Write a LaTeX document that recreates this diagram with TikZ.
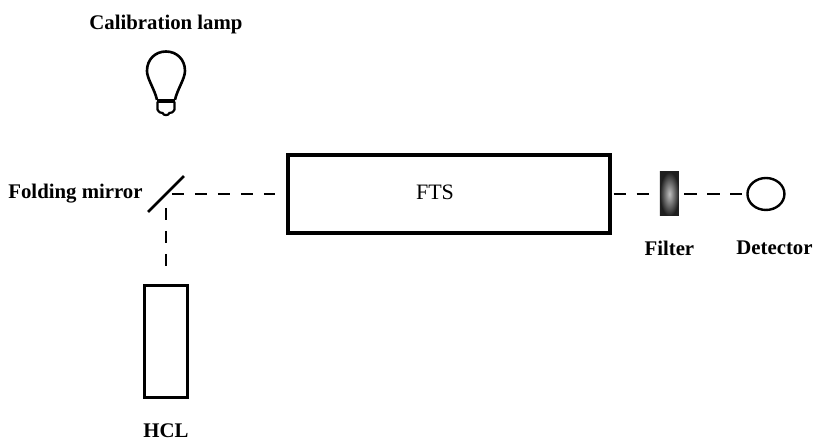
\documentclass[tikz,border=0pt]{standalone}
\usepackage{fontspec}
\setmainfont{Liberation Serif}
\usetikzlibrary{arrows.meta,positioning,shapes.geometric}

\begin{document}
\begin{tikzpicture}[
  tag/.style={inner sep=0pt, font=\fontsize{10.4}{12}\selectfont\bfseries},
  fts/.style={draw, line width=2.2pt, minimum width=5.66cm, minimum height=1.37cm},
  lampbox/.style={draw, line width=1.4pt, minimum width=0.756cm, minimum height=1.97cm},
  filterbox/.style={rectangle, minimum width=0.334cm, minimum height=0.773cm, inner sep=0pt,
  shading=radial, inner color=black!25, outer color=black!88},
  detector/.style={draw, ellipse, line width=1.2pt, minimum width=0.65cm, minimum height=0.562cm, inner sep=0pt},
  beam/.style={line width=0.85pt, dash pattern=on 6.1pt off 5.4pt}
]
  \useasboundingbox (-2.917,-4.411) rectangle (11.423,3.409);
  \coordinate (mirror) at (0,0);
  \coordinate[above=2.144cm of mirror] (lamp);
  \node[fts, right=2.109cm of mirror] (ftsbox) {};
  \node[filterbox, right=0.826cm of ftsbox] (filter) {};
  \node[detector, right=1.177cm of filter] (det) {};
  \node[lampbox, below=1.58cm of mirror] (hcl) {};
  % labels
  \node[font=\fontsize{11}{12}\selectfont] (ftslabel) at ([xshift=-0.25cm,yshift=0.03cm]ftsbox) {FTS};
  \node[tag, left=0.404cm of mirror] (foldlabel) {Folding mirror};
  \node[tag, above=0.67cm of lamp] (lamplabel) {Calibration lamp};
  \node[tag, below=0.43cm of hcl] (hcllabel) {HCL};
  \node[tag, below=0.42cm of filter] (filterlabel) {Filter};
  \node[tag, below=0.52cm of det, xshift=0.15cm] (detlabel) {Detector};
  % mirror and bulb
  \draw[line width=1.3pt] ([shift={(-0.316,-0.316)}]mirror) -- ([shift={(0.316,0.316)}]mirror);
  \draw[line width=1.3pt, shift={(lamp)}]
    (-0.158,-0.49) .. controls (-0.2,-0.3) and (-0.334,-0.12) .. (-0.334,0.02)
    .. controls (-0.334,0.22) and (-0.19,0.36) .. (0,0.36)
    .. controls (0.19,0.36) and (0.334,0.22) .. (0.334,0.02)
    .. controls (0.334,-0.12) and (0.2,-0.3) .. (0.158,-0.49);
  \draw[line width=1.9pt, shift={(lamp)}] (-0.158,-0.51) -- (0.158,-0.51);
  \draw[line width=1.1pt, shift={(lamp)}]
    (-0.15,-0.52) -- (-0.15,-0.66) .. controls (-0.12,-0.72) and (-0.08,-0.72) .. (-0.06,-0.72)
    .. controls (-0.05,-0.77) and (0.05,-0.77) .. (0.06,-0.72)
    .. controls (0.08,-0.72) and (0.12,-0.72) .. (0.15,-0.66) -- (0.15,-0.52);
  % beams
  \draw[beam, shorten <=0.105cm, shorten >=0.193cm] (mirror) -- (ftsbox.west);
  \draw[beam, shorten <=0.246cm, shorten >=0.3cm] (mirror) -- (hcl.north);
  \draw[beam, shorten <=0.02cm, shorten >=0.19cm] (ftsbox.east) -- (filter.west);
  \draw[beam, shorten <=0.09cm, shorten >=0.07cm] (filter.east) -- (det.west);
\end{tikzpicture}
\end{document}
